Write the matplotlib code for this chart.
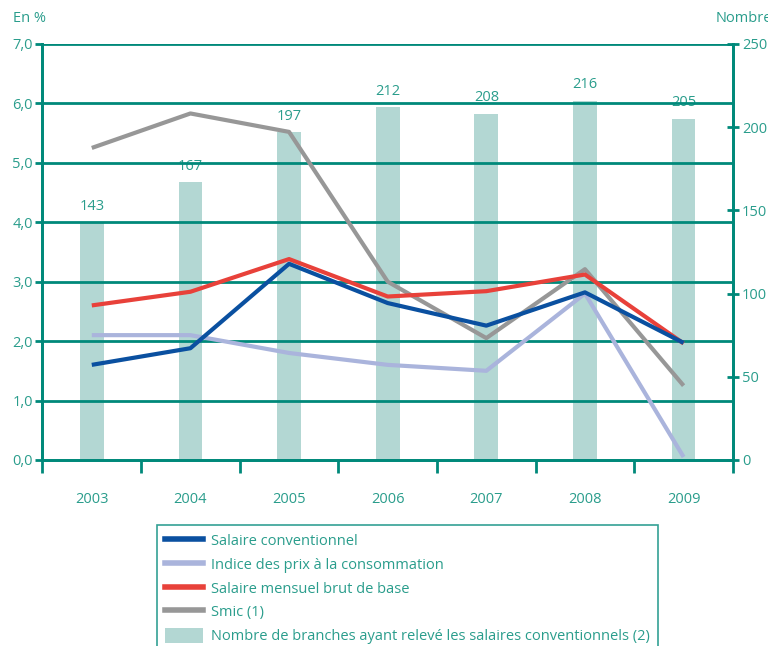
import matplotlib
matplotlib.use("Agg")
import matplotlib.pyplot as plt
from matplotlib.patches import Patch
from matplotlib.lines import Line2D

plt.rcParams['font.family'] = ['Open Sans', 'DejaVu Sans']

# donnees
annees = ['2003', '2004', '2005', '2006', '2007', '2008', '2009']
salaire_conv = [1.6, 1.88, 3.3, 2.64, 2.26, 2.82, 1.97]
prix_conso = [2.1, 2.1, 1.8, 1.6, 1.5, 2.8, 0.05]
salaire_brut = [2.6, 2.83, 3.38, 2.75, 2.84, 3.12, 1.96]
smic = [5.25, 5.83, 5.52, 3.0, 2.05, 3.21, 1.25]
nb_branches = [143, 167, 197, 212, 208, 216, 205]

teal = '#00897a'
txt = '#2a9d8c'
x = list(range(len(annees)))

fig = plt.figure(figsize=(7.68, 6.46), dpi=100)
ax = fig.add_axes([0.0553, 0.288, 0.899, 0.644])
ax2 = ax.twinx()
ax.set_zorder(ax2.get_zorder() + 1)
ax.patch.set_visible(False)

# barres (axe de droite)
ax2.bar(x, nb_branches, width=0.24, color='#b3d7d3', zorder=1)
for xi, v in zip(x, nb_branches):
    ax2.annotate(str(v), (xi, v), xytext=(0, 6), textcoords='offset points',
                 ha='center', va='bottom', color=txt, fontsize=10.5)
ax2.set_ylim(0, 250)
ax2.set_yticks([0, 50, 100, 150, 200, 250])
ax2.tick_params(axis='y', direction='inout', length=9, width=2, color=teal,
                labelcolor=txt, labelsize=10.5, pad=2)

# lignes (axe de gauche)
ax.set_ylim(0, 7)
ax.set_yticks(range(0, 8))
ax.set_yticklabels([f"{v},0" for v in range(0, 8)])
for yv in range(1, 8):
    ax.axhline(yv, color=teal, lw=2, zorder=2)
ax.plot(x, smic, color='#979797', lw=3, zorder=4, solid_capstyle='butt')
ax.plot(x, prix_conso, color='#aab4dc', lw=3, zorder=4, solid_capstyle='butt')
ax.plot(x, salaire_brut, color='#e8413a', lw=3, zorder=5, solid_capstyle='butt')
ax.plot(x, salaire_conv, color='#0a50a0', lw=3, zorder=5, solid_capstyle='butt')

ax.set_xlim(-0.5, 6.5)
ax.set_xticks(x)
ax.set_xticklabels(annees)
ax.set_xticks([i - 0.5 for i in range(8)], minor=True)
ax.tick_params(axis='x', which='major', length=0, pad=23, labelcolor=txt, labelsize=10.5)
ax.tick_params(axis='x', which='minor', length=9, width=2, color=teal, direction='out')
ax.tick_params(axis='y', direction='out', length=5, width=2, color=teal,
               labelcolor=txt, labelsize=10.5, pad=2)

for a in (ax, ax2):
    for s in a.spines.values():
        s.set_color(teal)
        s.set_linewidth(2)
    a.spines['top'].set_visible(False)

fig.text(13 / 768, 1 - 18 / 646, 'En %', color=txt, fontsize=10.5, va='center')
fig.text(716 / 768, 1 - 18 / 646, 'Nombre', color=txt, fontsize=10.5, va='center')

# legende
handles = [
    Line2D([], [], color='#0a50a0', lw=4),
    Line2D([], [], color='#aab4dc', lw=4),
    Line2D([], [], color='#e8413a', lw=4),
    Line2D([], [], color='#979797', lw=4),
    Patch(facecolor='#b3d7d3', edgecolor='none'),
]
labels = ['Salaire conventionnel', 'Indice des prix à la consommation',
          'Salaire mensuel brut de base', 'Smic (1)',
          'Nombre de branches ayant relevé les salaires conventionnels (2)']
leg = fig.legend(handles, labels, loc='upper left',
                 bbox_to_anchor=(157 / 768, 1 - 525 / 646), borderaxespad=0,
                 frameon=True, fancybox=False, fontsize=10.5,
                 handlelength=2.6, handleheight=1.2, labelspacing=0.5,
                 borderpad=0.55, handletextpad=0.55)
leg.get_frame().set_edgecolor(teal)
leg.get_frame().set_linewidth(1.2)
for t in leg.get_texts():
    t.set_color(txt)

fig.savefig('out.png', dpi=100)
